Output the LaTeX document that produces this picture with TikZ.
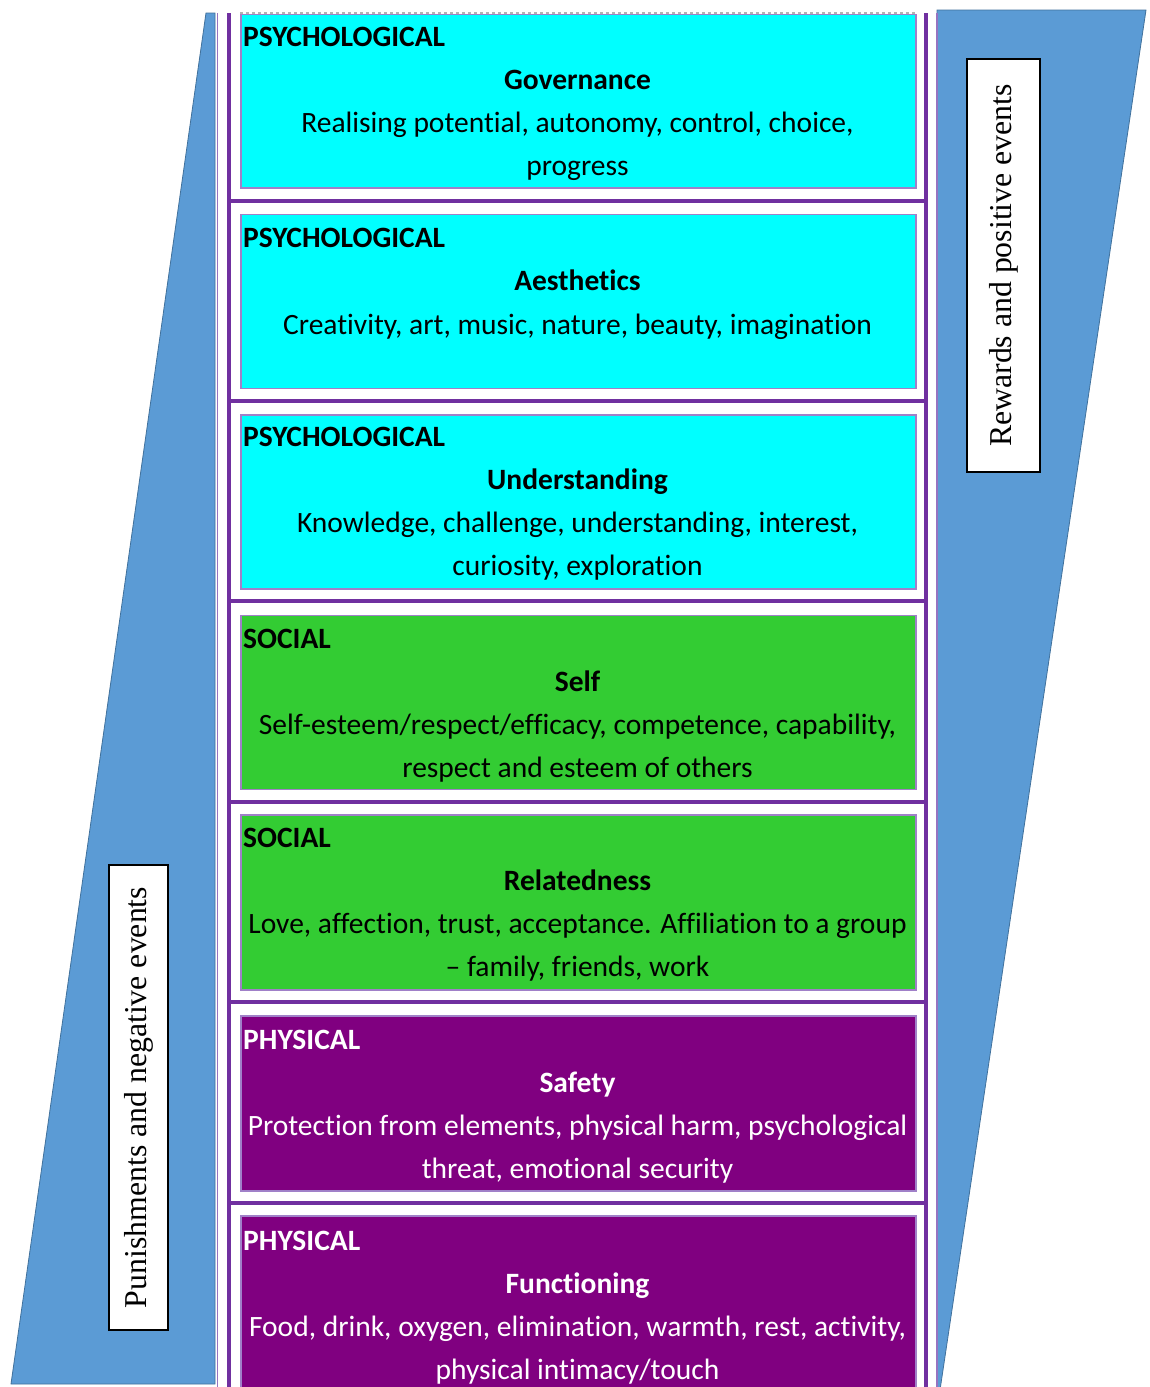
\documentclass[tikz,border=0pt]{standalone}
\usepackage{fontspec}
\setmainfont[Ligatures=NoCommon]{Carlito}
\newfontfamily\serifside{Liberation Serif}
\definecolor{sideblue}{RGB}{91,155,213}
\definecolor{sideedge}{RGB}{65,113,156}
\definecolor{linepurple}{RGB}{112,48,160}
\definecolor{thinpurple}{RGB}{150,115,192}
\definecolor{boxedge}{RGB}{160,128,200}
\definecolor{cyanfill}{RGB}{0,255,255}
\definecolor{greenfill}{RGB}{51,204,51}
\definecolor{purplefill}{RGB}{128,0,128}
\tikzset{
  needbox/.style={draw=boxedge, line width=1.6pt, minimum width=675pt, inner sep=0pt, anchor=north west},
  fixline/.style={inner sep=0pt, text height=21pt, text depth=7pt},
  titletext/.style={fixline, anchor=west, font=\fontsize{29.5}{43}\selectfont\bfseries},
  headtext/.style={fixline, font=\fontsize{29.5}{43}\selectfont\bfseries},
  desctext/.style={fixline, font=\fontsize{29.5}{43}\selectfont},
  sidelabel/.style={draw=black, line width=1.6pt, fill=white, rotate=90, inner sep=0pt, font=\serifside\fontsize{31.8}{36}\selectfont},
  thickline/.style={draw=linepurple, line width=4pt},
  thinline/.style={draw=thinpurple, line width=1.8pt}
}
\begin{document}
\begin{tikzpicture}[x=1pt,y=-1pt]
\clip (0,0) rectangle (1149,1387);
\fill[white] (0,0) rectangle (1149,1387);
% side shapes
\filldraw[fill=sideblue, draw=sideedge, line width=0.8pt] (206,13) -- (215,13) -- (215,1384) -- (11,1384) -- cycle;
\filldraw[fill=sideblue, draw=sideedge, line width=0.8pt] (937,10) -- (1146,10) -- (940,1390) -- (937,1390) -- cycle;
% table frame
\draw[thinline] (217.5,13) -- (217.5,1390);
\draw[thinline] (937,13) -- (937,1390);
\draw[thickline] (229,13) -- (229,1390);
\draw[thickline] (926,13) -- (926,1390);
\foreach \s in {200.5,401,601,801.5,1002,1202.5} {
  \draw[thickline] (229,\s) -- (926,\s);
}
% boxes
\node[needbox, fill=cyanfill, minimum height=174pt] (b1) at (240,13) {};
\node[needbox, fill=cyanfill, minimum height=174pt] (b2) at (240,213.5) {};
\node[needbox, fill=cyanfill, minimum height=174pt] (b3) at (240,414) {};
\node[needbox, fill=greenfill, minimum height=174pt] (b4) at (240,614.5) {};
\node[needbox, fill=greenfill, minimum height=175pt] (b5) at (240,814) {};
\node[needbox, fill=purplefill, minimum height=175pt] (b6) at (240,1015) {};
\node[needbox, fill=purplefill, minimum height=190pt] (b7) at (240,1215) {};
\draw[white, line width=2pt] (b1.north west) -- (b1.north east);
\draw[gray!60, dashed, line width=1.2pt] (b1.north west) -- (b1.north east);
% row 1
\node[titletext] (t1) at (243,39) {PSYCHOLOGICAL};
\node[headtext] (h1) at (577.5,82) {Governance};
\node[desctext] (d1a) at (577.5,125.5) {Realising potential, autonomy, control, choice,};
\node[desctext] (d1b) at (577.5,168.5) {progress};
% row 2
\node[titletext] (t2) at (243,240) {PSYCHOLOGICAL};
\node[headtext] (h2) at (577.5,283) {Aesthetics};
\node[desctext] (d2) at (577.5,327.5) {Creativity, art, music, nature, beauty, imagination};
% row 3
\node[titletext] (t3) at (243,439) {PSYCHOLOGICAL};
\node[headtext] (h3) at (577.5,482.5) {Understanding};
\node[desctext] (d3a) at (577.5,525.5) {Knowledge, challenge, understanding, interest,};
\node[desctext] (d3b) at (577.5,568.5) {curiosity, exploration};
% row 4
\node[titletext] (t4) at (243,641) {SOCIAL};
\node[headtext] (h4) at (577.5,684.5) {Self};
\node[desctext] (d4a) at (577.5,727.5) {Self-esteem/respect/efficacy, competence, capability,};
\node[desctext] (d4b) at (577.5,770.5) {respect and esteem of others};
% row 5
\node[titletext] (t5) at (243,840) {SOCIAL};
\node[headtext] (h5) at (577.5,883.5) {Relatedness};
\node[desctext] (d5a) at (577.5,926.5) {Love, affection, trust, acceptance. Affiliation to a group};
\node[desctext] (d5b) at (577.5,969.5) {– family, friends, work};
% row 6
\node[titletext, text=white] (t6) at (243,1042) {PHYSICAL};
\node[headtext, text=white] (h6) at (577.5,1085.5) {Safety};
\node[desctext, text=white] (d6a) at (577.5,1128.5) {Protection from elements, physical harm, psychological};
\node[desctext, text=white] (d6b) at (577.5,1171.5) {threat, emotional security};
% row 7
\node[titletext, text=white] (t7) at (243,1243) {PHYSICAL};
\node[headtext, text=white] (h7) at (577.5,1286.5) {Functioning};
\node[desctext, text=white] (d7a) at (577.5,1329.5) {Food, drink, oxygen, elimination, warmth, rest, activity,};
\node[desctext, text=white] (d7b) at (577.5,1372.5) {physical intimacy/touch};
% side labels
\node[sidelabel, minimum width=413pt, minimum height=73pt] (rw) at (1003.5,265.5) {Rewards and positive events};
\node[sidelabel, minimum width=465pt, minimum height=59pt] (pn) at (138.5,1097.5) {Punishments and negative events};
\end{tikzpicture}
\end{document}
